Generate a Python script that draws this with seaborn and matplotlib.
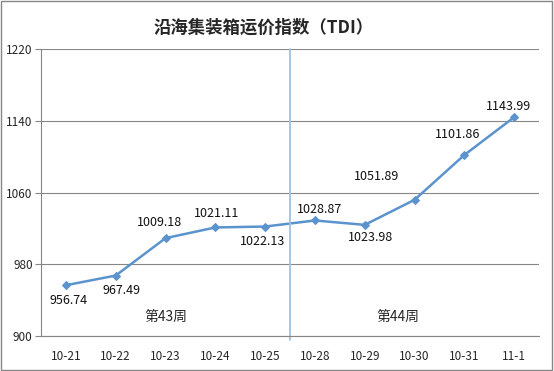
import matplotlib
matplotlib.use("Agg")
import matplotlib.pyplot as plt
import seaborn as sns
import pandas as pd

dates = ["10-21", "10-22", "10-23", "10-24", "10-25",
         "10-28", "10-29", "10-30", "10-31", "11-1"]
tdi = [956.74, 967.49, 1009.18, 1021.11, 1022.13,
       1028.87, 1023.98, 1051.89, 1101.86, 1143.99]
# label offsets (points) relative to each marker
label_offsets = [(2, -11), (4, -11), (-4, 11), (1, 10), (-2, -11),
                 (3, 8), (4, -9), (-27, 17), (-5, 15), (-4, 8)]
y_ticks = [900, 980, 1060, 1140, 1220]

sns.set_style("white")
plt.rcParams["font.family"] = ["Noto Sans CJK SC", "DejaVu Sans"]

df = pd.DataFrame({"date": dates, "tdi": tdi, "x": range(len(dates))})

fig = plt.figure(figsize=(5.54, 3.71), dpi=100)
ax = fig.add_axes([0.074, 0.094, 0.899, 0.774])

line_color = "#5B93CD"
sns.lineplot(data=df, x="x", y="tdi", ax=ax, color=line_color, linewidth=1.8,
             marker="D", markersize=4, markeredgecolor=line_color)

for i, (v, off) in enumerate(zip(tdi, label_offsets)):
    ax.annotate(f"{v:.2f}", (i, v), xytext=off, textcoords="offset points",
                ha="center", va="center", fontsize=9, color="#111111")

ax.axvline(4.5, ymin=-0.015, ymax=1, color="#9DC3E6", linewidth=1.3, clip_on=False)

ax.text(2, 921, "第43周", ha="center", va="center", fontsize=10)
ax.text(6.67, 921, "第44周", ha="center", va="center", fontsize=10)

ax.set_xlim(-0.5, len(dates) - 0.5)
ax.set_ylim(y_ticks[0], y_ticks[-1])
ax.set_yticks(y_ticks)
ax.set_xticks(range(len(dates)))
ax.set_xticklabels(dates)
ax.set_xticks([i + 0.5 for i in range(-1, len(dates))], minor=True)
ax.tick_params(axis="x", which="major", length=0, pad=10, labelsize=8.5)
ax.tick_params(axis="x", which="minor", length=4, color="#868686", direction="out")
ax.tick_params(axis="y", length=4, color="#868686", labelsize=8.5, pad=2, left=True)
ax.set_xlabel("")
ax.set_ylabel("")
ax.grid(axis="y", color="#868686", linewidth=0.8)
for s in ["top", "right"]:
    ax.spines[s].set_visible(False)
for s in ["left", "bottom"]:
    ax.spines[s].set_color("#868686")
    ax.spines[s].set_linewidth(0.8)

fig.text(0.475, 0.925, "沿海集装箱运价指数（TDI）", ha="center", va="center",
         fontsize=12.5, fontweight="bold")

fig.patches.append(plt.Rectangle((0.002, 0.003), 0.995, 0.994, transform=fig.transFigure,
                                 fill=False, edgecolor="#868686", linewidth=1))

fig.savefig("out.png", dpi=100)
